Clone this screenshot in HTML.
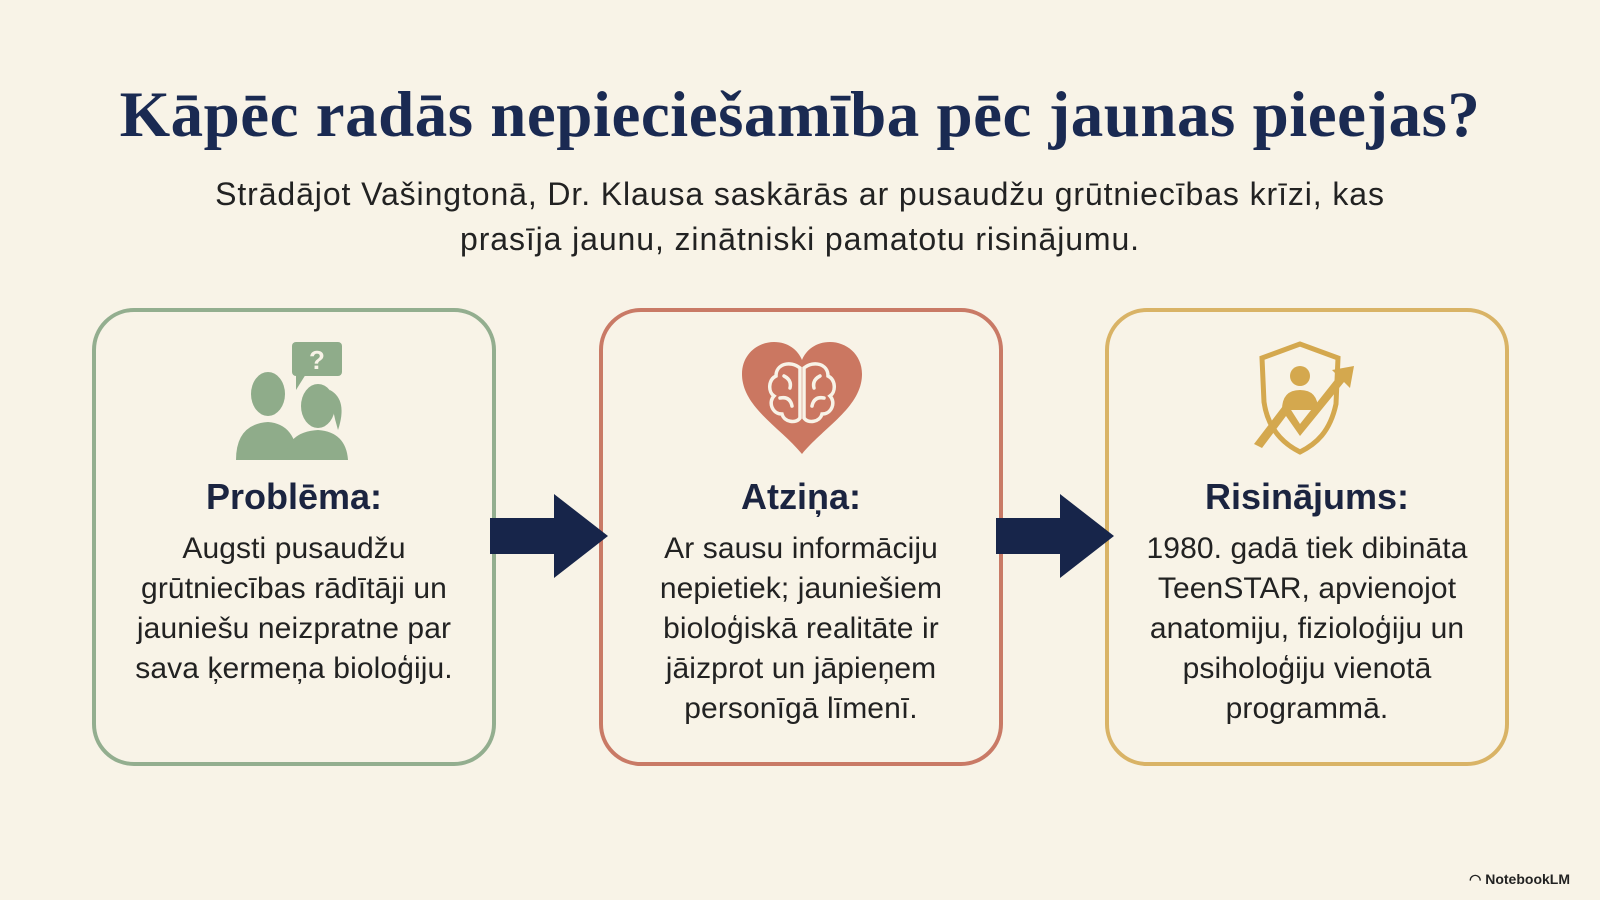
<!DOCTYPE html>
<html><head><meta charset="utf-8"><style>
body{margin:0;width:1600px;height:900px;background:#f8f3e7;font-family:"Liberation Sans",sans-serif;position:relative;overflow:hidden;color:#1b2440}
h1{position:absolute;top:78px;left:0;width:1600px;text-align:center;margin:0;font-family:"Liberation Serif",serif;font-weight:bold;font-size:65px;color:#1a2a52;letter-spacing:0.5px}
.sub{position:absolute;top:172px;left:0;width:1600px;text-align:center;font-size:32px;line-height:45px;color:#222;letter-spacing:0.9px}
.box{position:absolute;top:308px;width:404px;height:458px;border:4px solid;border-radius:42px;box-sizing:border-box}
.h{position:absolute;top:476px;width:404px;text-align:center;font-weight:bold;font-size:36px;color:#1b2440}
.t{position:absolute;top:529px;width:404px;text-align:center;font-size:30px;line-height:40px;color:#222;letter-spacing:0.1px}
.ico{position:absolute}
.foot{position:absolute;right:30px;bottom:12px;font-size:14px;font-weight:bold;color:#222}
</style></head><body>
<h1>Kāpēc radās nepieciešamība pēc jaunas pieejas?</h1>
<div class="sub">Strādājot Vašingtonā, Dr. Klausa saskārās ar pusaudžu grūtniecības krīzi, kas<br>prasīja jaunu, zinātniski pamatotu risinājumu.</div>

<div class="box" style="left:92px;border-color:#93ae8f"></div>
<div class="box" style="left:599px;border-color:#c97a66"></div>
<div class="box" style="left:1105px;border-color:#d9b366"></div>

<svg class="ico" style="left:234px;top:338px" width="130" height="122" viewBox="0 0 130 122">
<g fill="#8fac8a">
<rect x="58" y="4" width="50" height="34" rx="4"/><polygon points="62,36 72,36 62,52"/>
<text x="83" y="31" font-size="26" font-weight="bold" fill="#f8f3e7" text-anchor="middle" font-family="Liberation Sans">?</text>
<ellipse cx="34" cy="56" rx="17" ry="22"/><path d="M2 122 Q2 86 34 84 Q62 86 64 122Z"/>
<ellipse cx="84" cy="68" rx="17" ry="22"/><path d="M96 52 q18 10 8 40 q-6 -20 -8 -40Z"/><path d="M52 122 Q52 94 84 92 Q112 94 114 122Z"/>
</g></svg>

<svg class="ico" style="left:740px;top:342px" width="124" height="114" viewBox="0 0 124 114">
<path d="M62 112 C40 85 2 65 2 32 C2 12 18 0 34 0 C48 0 58 8 62 18 C66 8 76 0 90 0 C106 0 122 12 122 32 C122 65 84 85 62 112Z" fill="#cb7761"/>
<g fill="none" stroke="#f8f3e7" stroke-width="3.5" stroke-linecap="round">
<path d="M60 26 C50 18 36 22 36 34 C28 38 28 50 34 54 C28 60 32 72 42 72 C44 80 56 82 60 76 Z"/>
<path d="M64 26 C74 18 88 22 88 34 C96 38 96 50 90 54 C96 60 92 72 82 72 C80 80 68 82 64 76 Z"/>
<path d="M44 34 q8 4 6 12 M40 56 q10 -2 12 8 M80 34 q-8 4 -6 12 M84 56 q-10 -2 -12 8"/>
</g></svg>

<svg class="ico" style="left:1254px;top:340px" width="112" height="116" viewBox="0 0 112 116">
<g fill="none" stroke="#d4a84e" stroke-width="5">
<path d="M46 4 L8 18 L10 62 C14 90 30 104 46 112 C62 104 76 92 82 64 L84 18 Z"/>
</g>
<g fill="#d4a84e">
<circle cx="46" cy="36" r="10"/><path d="M28 70 Q28 50 46 50 Q64 50 64 70Z"/>
<polygon points="0,104 32,62 46,84 84,36 78,30 100,26 96,48 90,42 46,96 32,76 8,108"/>
</g></svg>

<div class="h" style="left:92px">Problēma:</div>
<div class="t" style="left:92px">Augsti pusaudžu<br>grūtniecības rādītāji un<br>jauniešu neizpratne par<br>sava ķermeņa bioloģiju.</div>
<div class="h" style="left:599px">Atziņa:</div>
<div class="t" style="left:599px">Ar sausu informāciju<br>nepietiek; jauniešiem<br>bioloģiskā realitāte ir<br>jāizprot un jāpieņem<br>personīgā līmenī.</div>
<div class="h" style="left:1105px">Risinājums:</div>
<div class="t" style="left:1105px">1980. gadā tiek dibināta<br>TeenSTAR, apvienojot<br>anatomiju, fizioloģiju un<br>psiholoģiju vienotā<br>programmā.</div>

<svg class="ico" style="left:490px;top:494px" width="118" height="84"><polygon points="0,24 64,24 64,0 118,42 64,84 64,60 0,60" fill="#17254a"/></svg>
<svg class="ico" style="left:996px;top:494px" width="118" height="84"><polygon points="0,24 64,24 64,0 118,42 64,84 64,60 0,60" fill="#17254a"/></svg>

<div class="foot">◠ NotebookLM</div>
</body></html>
